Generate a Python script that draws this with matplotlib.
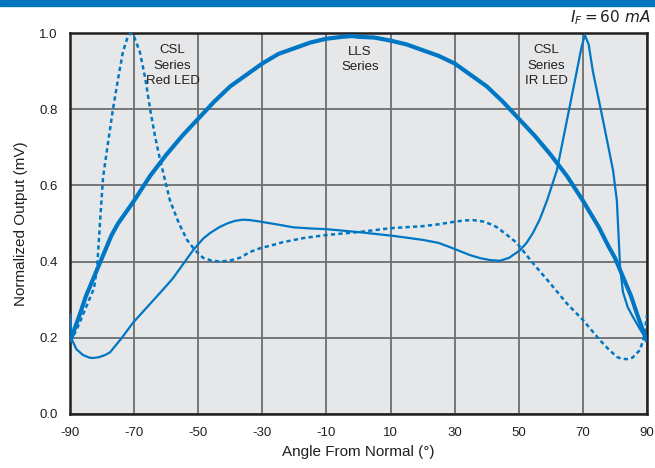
import matplotlib
matplotlib.use("Agg")
import matplotlib.pyplot as plt
from matplotlib.patches import Rectangle

# ---- data ----
x_ticks = [-90, -70, -50, -30, -10, 10, 30, 50, 70, 90]
y_ticks = [0.0, 0.2, 0.4, 0.6, 0.8, 1.0]

lls_angle = [-90, -87, -85, -82, -80, -77, -75, -70, -65, -60, -55, -50, -45, -40, -35, -30, -25, -20, -15,
             -10, -5, -2, 0, 5, 10, 15, 20, 25, 30, 35, 40, 45, 50, 55, 60, 65, 70, 75, 78, 80, 82, 85, 87, 90]
lls_value = [0.19, 0.26, 0.31, 0.37, 0.41, 0.47, 0.50, 0.56, 0.625, 0.68, 0.73, 0.775, 0.82, 0.86, 0.89, 0.92,
             0.945, 0.96, 0.975, 0.985, 0.99, 0.992, 0.99, 0.988, 0.98, 0.97, 0.955, 0.94, 0.92, 0.89, 0.86,
             0.82, 0.775, 0.73, 0.68, 0.625, 0.56, 0.49, 0.44, 0.41, 0.37, 0.31, 0.26, 0.19]

red_angle = [-90, -88, -85, -82.5, -81.5, -80.5, -79.7, -78, -76.6, -75, -73.5, -72, -71, -70, -68.2, -66.5,
             -65, -63.5, -61.9, -58.8, -56, -53.5, -51, -48.5, -46, -43.2, -40, -37, -33.9, -30.7, -27, -23.6,
             -17, -9.8, 0.5, 10.4, 20.1, 25, 29.5, 33, 35.7, 39, 41.9, 43.2, 46, 49.4, 54.4, 59.7, 65, 70,
             75.3, 78, 80.6, 82, 83.7, 85.5, 87.8, 89, 90]
red_value = [0.19, 0.22, 0.28, 0.33, 0.39, 0.52, 0.62, 0.72, 0.80, 0.88, 0.95, 0.99, 1.0, 0.99, 0.95, 0.88,
             0.80, 0.73, 0.667, 0.56, 0.50, 0.457, 0.43, 0.41, 0.403, 0.40, 0.403, 0.41, 0.425, 0.435, 0.443,
             0.451, 0.462, 0.47, 0.478, 0.488, 0.493, 0.498, 0.504, 0.508, 0.509, 0.505, 0.496, 0.49, 0.472,
             0.449, 0.396, 0.344, 0.29, 0.247, 0.194, 0.17, 0.15, 0.145, 0.144, 0.148, 0.168, 0.20, 0.26]

ir_angle = [-90, -89.4, -88, -86, -84, -82.8, -81, -79, -77.5, -74, -70.3, -66, -61.9, -58, -55, -51.6, -48.5,
            -46.3, -43.5, -41, -38.5, -36, -33.9, -30.7, -25, -20.4, -15, -9.8, 0.5, 10.4, 20.1, 25, 28.5,
            31.5, 34.8, 38, 41, 44.1, 47, 50.4, 52.5, 54.4, 56.5, 58.8, 61.9, 65, 68.1, 69.5, 70.6, 71.8,
            73.1, 76.3, 79.4, 80.6, 81.6, 82.5, 84, 85.6, 88, 90]
ir_value = [0.26, 0.195, 0.17, 0.155, 0.148, 0.147, 0.149, 0.155, 0.162, 0.198, 0.24, 0.28, 0.318, 0.355,
            0.39, 0.43, 0.46, 0.475, 0.49, 0.50, 0.507, 0.51, 0.509, 0.505, 0.497, 0.49, 0.487, 0.485, 0.477,
            0.468, 0.457, 0.449, 0.438, 0.428, 0.417, 0.409, 0.404, 0.402, 0.41, 0.43, 0.45, 0.475, 0.51,
            0.56, 0.64, 0.77, 0.90, 0.96, 0.995, 0.97, 0.90, 0.77, 0.64, 0.56, 0.386, 0.32, 0.28, 0.255,
            0.22, 0.194]

blue = "#0077c4"
plt.rcParams["font.family"] = ["Liberation Sans", "DejaVu Sans"]

fig = plt.figure(figsize=(6.55, 4.68), dpi=100)
fig.patches.append(Rectangle((0, 1 - 6 / 468), 1, 6 / 468, transform=fig.transFigure,
                             color="#0074bd", zorder=0))
ax = fig.add_axes([70 / 655, 54 / 468, 577 / 655, 381 / 468])
ax.set_facecolor("#e6e7e9")
ax.set_xlim(-90, 90)
ax.set_ylim(0, 1.0)
ax.set_xticks(x_ticks)
ax.set_xticklabels([str(t) for t in x_ticks])
ax.set_yticks(y_ticks)
ax.set_yticklabels([f"{t:.1f}" for t in y_ticks])
ax.grid(True, color="#6d6e70", linewidth=1.3)
ax.set_axisbelow(True)
ax.tick_params(length=0, labelsize=9.5, colors="#231f20", pad=9)
for s in ax.spines.values():
    s.set_linewidth(1.8)
    s.set_color("#231f20")

ax.plot(lls_angle, lls_value, color=blue, lw=3.0, solid_capstyle="butt", zorder=3)
ax.plot(red_angle, red_value, color=blue, lw=1.8, ls=(0, (1.7, 1.3)), zorder=3)
ax.plot(ir_angle, ir_value, color=blue, lw=1.6, zorder=3)

ax.text(-58, 0.97, "CSL\nSeries\nRed LED", ha="center", va="top", fontsize=9.5,
        color="#231f20", linespacing=1.35)
ax.text(0.5, 0.965, "LLS\nSeries", ha="center", va="top", fontsize=9.5,
        color="#231f20", linespacing=1.35)
ax.text(58.5, 0.97, "CSL\nSeries\nIR LED", ha="center", va="top", fontsize=9.5,
        color="#231f20", linespacing=1.35)

fig.text(650 / 655, 1 - 18 / 468, r"$\mathit{I_F}$$\mathit{=60\ mA}$", ha="right", va="center",
         fontsize=11, color="#231f20")

ax.set_xlabel("Angle From Normal (°)", fontsize=11, color="#231f20", labelpad=5)
ax.set_ylabel("Normalized Output (mV)", fontsize=11, color="#231f20", labelpad=8)

fig.savefig("out.png", dpi=100)
